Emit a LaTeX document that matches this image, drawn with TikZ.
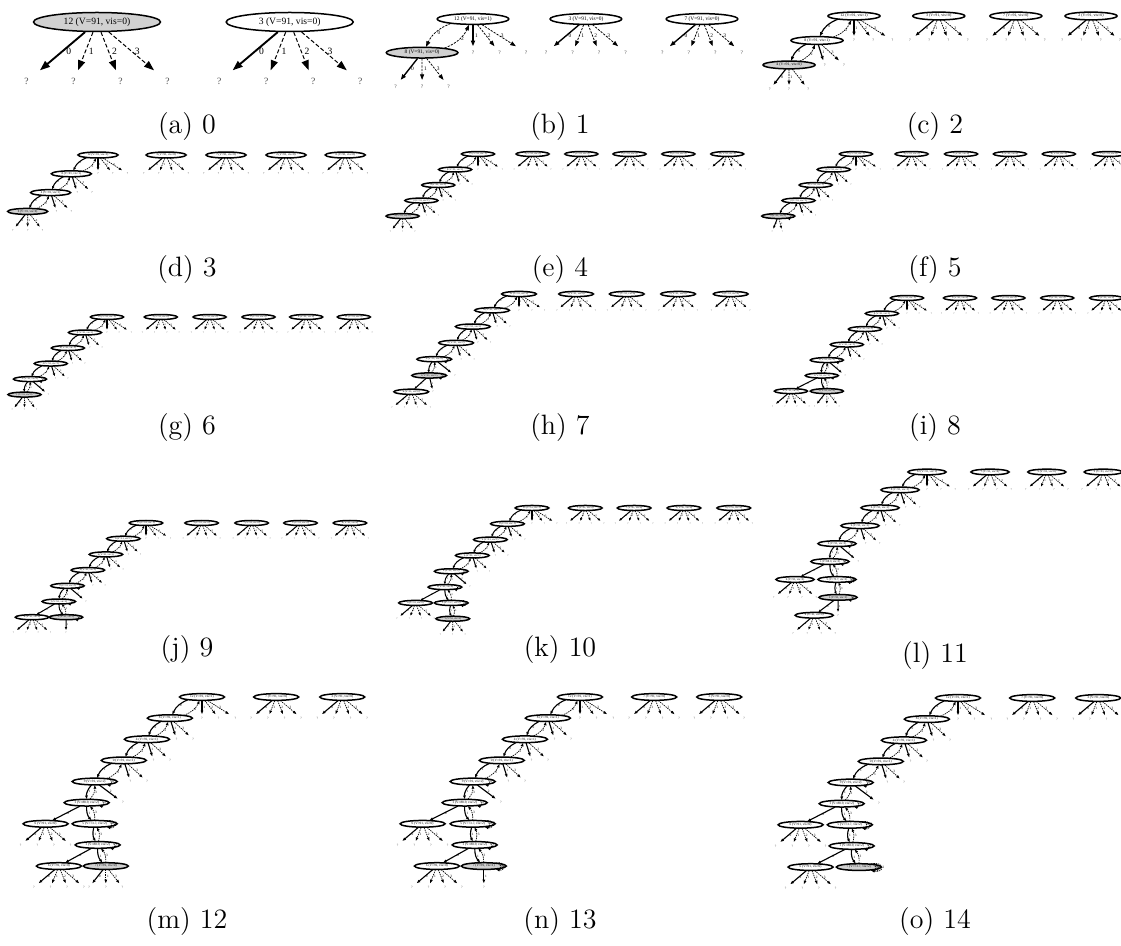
\documentclass[tikz,border=0pt]{standalone}
\usepackage{fontspec}
\newfontfamily\gvfont{Liberation Serif}
\usetikzlibrary{arrows.meta,positioning,shapes.geometric}

\newcommand\gvsize{\gvfont\fontsize{4.8}{5.5}\selectfont}
\newcommand\setpanel[1]{%
	\pgfmathsetmacro\AL{max(5*#1,1.4)}%
	\pgfmathsetmacro\AW{max(3.6*#1,1.1)}%
	\pgfmathsetmacro\DA{max(2*#1,0.7)}%
	\pgfmathsetmacro\DB{max(1.1*#1,0.45)}%
	\pgfmathsetmacro\SW{0.35+0.6*#1}%
	\pgfmathsetmacro\TW{0.25+0.25*#1}}

\tikzset{
	st/.style={draw, ellipse, line width=0.75pt, inner sep=0pt, minimum width=63.5pt, minimum height=9.5pt, font=\gvsize},
	cur/.style={st, fill=black!18},
	leaf/.style={inner sep=0pt, minimum width=18pt, minimum height=11pt, font=\gvsize, text=black!70},
	elab/.style={midway, right, inner sep=1.5pt, font=\gvsize},
	sol/.style={-{Triangle[length=\AL pt, width=\AW pt]}, line width=\SW pt},
	dsh/.style={sol, line width=\TW pt, dash pattern=on \DA pt off \DB pt},
	panel/.style={x=23.5pt, y=-29.85pt, scale=#1, transform shape},
	captxt/.style={font=\fontsize{14}{16}\selectfont},
}

% actions not tried yet, one level below a state
\newcommand\fan[4]{%
	\foreach \dx/\lab/\sty in {#4}{%
		\node[leaf] (#1-\lab) at ({#2+\dx},{#3+1}) {?};
		\draw[\sty] (#1) -- (#1-\lab) node[elab] {\lab};
	}}
\newcommand\topfan[3]{\fan{#1}{#2}{#3}{0/1/sol,1/2/dsh,2/3/dsh}}
\newcommand\midfan[3]{\fan{#1}{#2}{#3}{0.4/1/sol,1.4/3/dsh}}
\newcommand\lowfan[3]{\fan{#1}{#2}{#3}{-1/0/sol,0/1/dsh,1/3/dsh}}
\newcommand\allfan[3]{\fan{#1}{#2}{#3}{-1.5/0/sol,-0.5/1/dsh,0.5/2/dsh,1.5/3/dsh}}
\newcommand\rtree[3]{\node[st] (#1) at (#2,0) {#3};\allfan{#1}{#2}{0}}
% step down and step back
\newcommand\pair[4]{%
	\draw[sol] (#1) to[bend right=22] node[elab] {#3} (#2);
	\draw[dsh] (#2) to[bend right=22] node[elab] {#4} (#1);}
\newcommand\sloop[3]{%
	\draw[dsh] (#1) to[out=14,in=-14,min distance=#3] node[elab] {#2} (#1);}
% root and the first two states of the path
\newcommand\upper[3]{%
	\node[st] (#1r) at (0,0) {12 (V=91, vis=1)};
	\node[st] (#1a) at (#2,1) {8 (V=91, vis=1)};
	\node[st] (#1b) at (#3,2) {4 (V=91, vis=1)};
	\pair{#1r}{#1a}{0}{2}
	\pair{#1a}{#1b}{0}{2}
	\topfan{#1r}{0}{0}
	\midfan{#1a}{#2}{1}
	\midfan{#1b}{#3}{2}}

\begin{document}
\begin{tikzpicture}[x=0.5pt, y=-0.5pt]
	\useasboundingbox (0,0) rectangle (1121,946);

	% (a)
	\begin{scope}[shift={(97,22)}, panel=1]
		\setpanel{1}
		\node[cur] (a12) at (0,0) {12 (V=91, vis=0)};
		\allfan{a12}{0}{0}
		\rtree{a3}{4.1}{3 (V=91, vis=0)}
	\end{scope}
	\node[captxt] (capa) at (187,127) {(a) 0};

	% (b)
	\begin{scope}[shift={(473,19)}, panel=0.564]
		\setpanel{0.564}
		\node[st] (b12) at (0,0) {12 (V=91, vis=1)};
		\node[cur] (b8) at (-1.92,1) {8 (V=91, vis=0)};
		\draw[dsh] (b12) to[bend right=22] node[elab] {0} (b8);
		\draw[dsh] (b8) to[bend right=22] node[elab] {2} (b12);
		\topfan{b12}{0}{0}
		\lowfan{b8}{-1.92}{1}
		\rtree{b3}{4.26}{3 (V=91, vis=0)}
		\rtree{b7}{8.64}{7 (V=91, vis=0)}
	\end{scope}
	\node[captxt] (capb) at (560,127) {(b) 1};

	% (c)
	\begin{scope}[shift={(854,16)}, panel=0.41]
		\setpanel{0.41}
		\node[st] (c12) at (0,0) {12 (V=91, vis=1)};
		\node[st] (c8) at (-1.92,1) {8 (V=91, vis=1)};
		\node[cur] (c4) at (-3.37,2) {4 (V=91, vis=0)};
		\pair{c12}{c8}{0}{2}
		\pair{c8}{c4}{0}{2}
		\topfan{c12}{0}{0}
		\midfan{c8}{-1.92}{1}
		\lowfan{c4}{-3.37}{2}
		\rtree{c3}{4.4}{3 (V=91, vis=0)}
		\rtree{c7}{8.4}{7 (V=91, vis=0)}
		\rtree{c2}{12.3}{2 (V=91, vis=0)}
	\end{scope}
	\node[captxt] (capc) at (935,127) {(c) 2};

	% (d)
	\begin{scope}[shift={(98,155)}, panel=0.315]
		\setpanel{0.315}
		\upper{d}{-1.8}{-3.2}
		\node[cur] (dc) at (-4.75,3) {0 (V=91, vis=0)};
		\pair{db}{dc}{0}{2}
		\lowfan{dc}{-4.75}{3}
		\rtree{d3}{4.6}{3 (V=91, vis=0)}
		\rtree{d7}{8.65}{7 (V=91, vis=0)}
		\rtree{d2}{12.7}{2 (V=91, vis=0)}
		\rtree{d6}{16.7}{6 (V=91, vis=0)}
	\end{scope}
	\node[captxt] (capd) at (187,270) {(d) 3};

	% (e)
	\begin{scope}[shift={(478,154)}, panel=0.26]
		\setpanel{0.26}
		\upper{e}{-1.87}{-3.25}
		\node[st] (ec) at (-4.63,3) {0 (V=91, vis=1)};
		\node[cur] (ed) at (-6.17,4) {9 (V=91, vis=0)};
		\pair{eb}{ec}{0}{2}
		\pair{ec}{ed}{1}{3}
		\midfan{ec}{-4.63}{3}
		\lowfan{ed}{-6.17}{4}
		\rtree{e3}{4.47}{3 (V=91, vis=0)}
		\rtree{e7}{8.46}{7 (V=91, vis=0)}
		\rtree{e2}{12.4}{2 (V=91, vis=0)}
		\rtree{e6}{16.4}{6 (V=91, vis=0)}
		\rtree{e11}{20.4}{11 (V=91, vis=0)}
	\end{scope}
	\node[captxt] (cape) at (560,270) {(e) 4};

	% (f)
	\begin{scope}[shift={(856,154)}, panel=0.26]
		\setpanel{0.26}
		\upper{f}{-1.82}{-3.3}
		\node[st] (fc) at (-4.7,3) {0 (V=91, vis=1)};
		\node[cur] (fd) at (-6.36,4) {9 (V=91, vis=1)};
		\pair{fb}{fc}{0}{2}
		\pair{fc}{fd}{1}{3}
		\midfan{fc}{-4.7}{3}
		\sloop{fd}{0}{8pt}
		\fan{fd}{-6.36}{4}{-0.5/1/sol,0.33/3/dsh}
		\rtree{f3}{4.55}{3 (V=91, vis=0)}
		\rtree{f7}{8.6}{7 (V=91, vis=0)}
		\rtree{f2}{12.6}{2 (V=91, vis=0)}
		\rtree{f6}{16.6}{6 (V=91, vis=0)}
		\rtree{f11}{20.7}{11 (V=91, vis=0)}
	\end{scope}
	\node[captxt] (capf) at (935,270) {(f) 5};

	% (g)
	\begin{scope}[shift={(107,317)}, panel=0.26]
		\setpanel{0.26}
		\upper{g}{-1.8}{-3.2}
		\node[st] (gc) at (-4.6,3) {0 (V=91, vis=1)};
		\node[st] (gd) at (-6.3,4) {9 (V=91, vis=2)};
		\node[cur] (ge) at (-6.75,5) {1 (V=91, vis=0)};
		\pair{gb}{gc}{0}{2}
		\pair{gc}{gd}{1}{3}
		\pair{gd}{ge}{1}{3}
		\midfan{gc}{-4.6}{3}
		\sloop{gd}{0}{8pt}
		\fan{gd}{-6.3}{4}{1.5/2/sol}
		\lowfan{ge}{-6.75}{5}
		\rtree{g3}{4.4}{3 (V=91, vis=0)}
		\rtree{g7}{8.4}{7 (V=91, vis=0)}
		\rtree{g2}{12.4}{2 (V=91, vis=0)}
		\rtree{g6}{16.3}{6 (V=91, vis=0)}
		\rtree{g11}{20.2}{11 (V=91, vis=0)}
	\end{scope}
	\node[captxt] (capg) at (187,428) {(g) 6};

	% (h)
	\begin{scope}[shift={(519,294)}, panel=0.273]
		\setpanel{0.273}
		\upper{h}{-2.1}{-3.6}
		\node[st] (hc) at (-4.9,3) {0 (V=91, vis=1)};
		\node[st] (hd) at (-6.6,4) {9 (V=91, vis=2)};
		\node[cur] (he) at (-7.0,5) {1 (V=91, vis=1)};
		\node[st] (hf) at (-8.4,6) {6 (V=91, vis=0)};
		\pair{hb}{hc}{0}{2}
		\pair{hc}{hd}{1}{3}
		\pair{hd}{he}{1}{3}
		\draw[sol] (he) -- (hf) node[elab] {0};
		\midfan{hc}{-4.9}{3}
		\sloop{hd}{0}{8pt}
		\fan{hd}{-6.6}{4}{1.6/2/sol}
		\sloop{he}{2}{8pt}
		\fan{he}{-7.0}{5}{0.3/1/sol}
		\allfan{hf}{-8.4}{6}
		\rtree{h3}{4.45}{3 (V=91, vis=0)}
		\rtree{h7}{8.4}{7 (V=91, vis=0)}
		\rtree{h2}{12.4}{2 (V=91, vis=0)}
		\rtree{h6}{16.5}{6 (V=91, vis=0)}
	\end{scope}
	\node[captxt] (caph) at (560,428) {(h) 7};

	% (i)
	\begin{scope}[shift={(907,298)}, panel=0.26]
		\setpanel{0.26}
		\upper{i}{-2.05}{-3.44}
		\node[st] (ic) at (-4.92,3) {0 (V=91, vis=1)};
		\node[st] (id) at (-6.56,4) {9 (V=91, vis=2)};
		\node[st] (ie) at (-6.97,5) {1 (V=91, vis=1)};
		\node[st] (if) at (-9.5,6) {6 (V=91, vis=0)};
		\node[cur] (ig) at (-6.56,6) {5 (V=91, vis=0)};
		\pair{ib}{ic}{0}{2}
		\pair{ic}{id}{1}{3}
		\pair{id}{ie}{1}{3}
		\pair{ie}{ig}{1}{3}
		\draw[sol] (ie) -- (if) node[elab] {0};
		\midfan{ic}{-4.92}{3}
		\sloop{id}{0}{8pt}
		\fan{id}{-6.56}{4}{1.5/2/sol}
		\sloop{ie}{2}{8pt}
		\allfan{if}{-9.5}{6}
		\lowfan{ig}{-6.56}{6}
		\rtree{i3}{4.34}{3 (V=91, vis=0)}
		\rtree{i7}{8.3}{7 (V=91, vis=0)}
		\rtree{i2}{12.3}{2 (V=91, vis=0)}
		\rtree{i6}{16.3}{6 (V=91, vis=0)}
	\end{scope}
	\node[captxt] (capi) at (935,428) {(i) 8};

	% (j)
	\begin{scope}[shift={(146,523)}, panel=0.263]
		\setpanel{0.263}
		\upper{j}{-1.83}{-3.24}
		\node[st] (jc) at (-4.7,3) {0 (V=91, vis=1)};
		\node[st] (jd) at (-6.35,4) {9 (V=91, vis=2)};
		\node[st] (je) at (-7.05,5) {1 (V=91, vis=2)};
		\node[st] (jf) at (-9.22,6) {6 (V=91, vis=0)};
		\node[cur] (jg) at (-6.47,6) {5 (V=91, vis=1)};
		\pair{jb}{jc}{0}{2}
		\pair{jc}{jd}{1}{3}
		\pair{jd}{je}{1}{3}
		\pair{je}{jg}{1}{3}
		\draw[sol] (je) -- (jf) node[elab] {0};
		\midfan{jc}{-4.7}{3}
		\sloop{jd}{0}{8pt}
		\fan{jd}{-6.35}{4}{1.5/2/sol}
		\sloop{je}{2}{8pt}
		\allfan{jf}{-9.22}{6}
		\sloop{jg}{2}{8pt}
		\fan{jg}{-6.47}{6}{0/1/sol}
		\rtree{j3}{4.5}{3 (V=91, vis=0)}
		\rtree{j7}{8.55}{7 (V=91, vis=0)}
		\rtree{j2}{12.5}{2 (V=91, vis=0)}
		\rtree{j6}{16.5}{6 (V=91, vis=0)}
	\end{scope}
	\node[captxt] (capj) at (187,650) {(j) 9};

	% (k)
	\begin{scope}[shift={(532,508)}, panel=0.265]
		\setpanel{0.265}
		\upper{k}{-1.97}{-3.34}
		\node[st] (kc) at (-4.79,3) {0 (V=91, vis=1)};
		\node[st] (kd) at (-6.48,4) {9 (V=91, vis=2)};
		\node[st] (ke) at (-6.99,5) {1 (V=91, vis=2)};
		\node[st] (kf) at (-9.35,6) {6 (V=91, vis=0)};
		\node[st] (kg) at (-6.48,6) {5 (V=73.7, vis=2)};
		\node[cur] (kh) at (-6.36,7) {1 (V=91, vis=0)};
		\pair{kb}{kc}{0}{2}
		\pair{kc}{kd}{1}{3}
		\pair{kd}{ke}{1}{3}
		\pair{ke}{kg}{1}{3}
		\pair{kg}{kh}{1}{3}
		\draw[sol] (ke) -- (kf) node[elab] {0};
		\midfan{kc}{-4.79}{3}
		\sloop{kd}{0}{8pt}
		\fan{kd}{-6.48}{4}{1.5/2/sol}
		\sloop{ke}{2}{8pt}
		\allfan{kf}{-9.35}{6}
		\sloop{kg}{2}{8pt}
		\sloop{kg}{0}{14pt}
		\lowfan{kh}{-6.36}{7}
		\rtree{k3}{4.28}{3 (V=91, vis=0)}
		\rtree{k7}{8.2}{7 (V=91, vis=0)}
		\rtree{k2}{12.2}{2 (V=91, vis=0)}
		\rtree{k6}{16.2}{6 (V=91, vis=0)}
	\end{scope}
	\node[captxt] (capk) at (560,650) {(k) 10};

	% (l)
	\begin{scope}[shift={(927,472)}, panel=0.30]
		\setpanel{0.30}
		\upper{l}{-1.91}{-3.33}
		\node[st] (lc) at (-4.75,3) {0 (V=91, vis=1)};
		\node[st] (ld) at (-6.38,4) {9 (V=91, vis=2)};
		\node[st] (le) at (-6.88,5) {1 (V=88.9, vis=2)};
		\node[st] (lf) at (-9.36,6) {6 (V=91, vis=0)};
		\node[st] (lg) at (-6.38,6) {5 (V=73.7, vis=2)};
		\node[cur] (lh) at (-6.31,7) {1 (V=91, vis=1)};
		\node[st] (li) at (-8.0,8) {6 (V=91, vis=0)};
		\pair{lb}{lc}{0}{2}
		\pair{lc}{ld}{1}{3}
		\pair{ld}{le}{1}{3}
		\pair{le}{lg}{1}{3}
		\pair{lg}{lh}{1}{3}
		\draw[sol] (le) -- (lf) node[elab] {0};
		\draw[sol] (lh) -- (li) node[elab] {0};
		\midfan{lc}{-4.75}{3}
		\sloop{ld}{0}{8pt}
		\fan{ld}{-6.38}{4}{1.5/2/sol}
		\sloop{le}{2}{8pt}
		\allfan{lf}{-9.36}{6}
		\sloop{lg}{2}{8pt}
		\sloop{lg}{0}{14pt}
		\sloop{lh}{2}{8pt}
		\fan{lh}{-6.31}{7}{0/1/sol}
		\allfan{li}{-8.0}{8}
		\rtree{l7}{4.47}{7 (V=91, vis=0)}
		\rtree{l3}{8.5}{3 (V=91, vis=0)}
		\rtree{l2}{12.5}{2 (V=91, vis=0)}
	\end{scope}
	\node[captxt] (capl) at (935,656) {(l) 11};

	% (m)
	\begin{scope}[shift={(202,697)}, panel=0.354]
		\setpanel{0.354}
		\upper{m}{-1.93}{-3.31}
		\node[st] (mc) at (-4.7,3) {0 (V=91, vis=1)};
		\node[st] (md) at (-6.45,4) {9 (V=91, vis=2)};
		\node[st] (me) at (-6.93,5) {1 (V=88.9, vis=2)};
		\node[st] (mf) at (-9.4,6) {6 (V=91, vis=0)};
		\node[st] (mg) at (-6.45,6) {5 (V=73.7, vis=2)};
		\node[st] (mh) at (-6.27,7) {1 (V=80.9, vis=2)};
		\node[st] (mi) at (-8.6,8) {6 (V=91, vis=0)};
		\node[cur] (mj) at (-5.78,8) {7 (V=91, vis=0)};
		\pair{mb}{mc}{0}{2}
		\pair{mc}{md}{1}{3}
		\pair{md}{me}{1}{3}
		\pair{me}{mg}{1}{3}
		\pair{mg}{mh}{1}{3}
		\pair{mh}{mj}{1}{3}
		\draw[sol] (me) -- (mf) node[elab] {0};
		\draw[sol] (mh) -- (mi) node[elab] {0};
		\midfan{mc}{-4.7}{3}
		\sloop{md}{0}{8pt}
		\fan{md}{-6.45}{4}{1.7/2/sol}
		\sloop{me}{2}{8pt}
		\allfan{mf}{-9.4}{6}
		\sloop{mg}{2}{8pt}
		\sloop{mg}{0}{14pt}
		\sloop{mh}{2}{8pt}
		\allfan{mi}{-8.6}{8}
		\lowfan{mj}{-5.78}{8}
		\rtree{m7}{4.46}{7 (V=91, vis=0)}
		\rtree{m3}{8.43}{3 (V=91, vis=0)}
	\end{scope}
	\node[captxt] (capm) at (187,922) {(m) 12};

	% (n)
	\begin{scope}[shift={(580,697)}, panel=0.354]
		\setpanel{0.354}
		\upper{n}{-1.93}{-3.31}
		\node[st] (nc) at (-4.7,3) {0 (V=91, vis=1)};
		\node[st] (nd) at (-6.45,4) {9 (V=91, vis=2)};
		\node[st] (ne) at (-6.93,5) {1 (V=88.9, vis=2)};
		\node[st] (nf) at (-9.46,6) {6 (V=91, vis=0)};
		\node[st] (ng) at (-6.45,6) {5 (V=73.7, vis=2)};
		\node[st] (nh) at (-6.33,7) {1 (V=80.9, vis=2)};
		\node[st] (ni) at (-8.6,8) {6 (V=91, vis=0)};
		\node[cur] (nj) at (-5.78,8) {7 (V=91, vis=1)};
		\pair{nb}{nc}{0}{2}
		\pair{nc}{nd}{1}{3}
		\pair{nd}{ne}{1}{3}
		\pair{ne}{ng}{1}{3}
		\pair{ng}{nh}{1}{3}
		\pair{nh}{nj}{1}{3}
		\draw[sol] (ne) -- (nf) node[elab] {0};
		\draw[sol] (nh) -- (ni) node[elab] {0};
		\midfan{nc}{-4.7}{3}
		\sloop{nd}{0}{8pt}
		\fan{nd}{-6.45}{4}{1.7/2/sol}
		\sloop{ne}{2}{8pt}
		\allfan{nf}{-9.46}{6}
		\sloop{ng}{2}{8pt}
		\sloop{ng}{0}{14pt}
		\sloop{nh}{2}{8pt}
		\allfan{ni}{-8.6}{8}
		\sloop{nj}{0}{8pt}
		\sloop{nj}{2}{14pt}
		\fan{nj}{-5.78}{8}{0/1/sol}
		\rtree{n7}{4.46}{7 (V=91, vis=0)}
		\rtree{n3}{8.37}{3 (V=91, vis=0)}
	\end{scope}
	\node[captxt] (capn) at (560,922) {(n) 13};

	% (o)
	\begin{scope}[shift={(958,698)}, panel=0.354]
		\setpanel{0.354}
		\upper{o}{-1.87}{-3.25}
		\node[st] (oc) at (-4.64,3) {0 (V=91, vis=1)};
		\node[st] (od) at (-6.45,4) {9 (V=91, vis=2)};
		\node[st] (oe) at (-6.99,5) {1 (V=88.9, vis=2)};
		\node[st] (of) at (-9.46,6) {6 (V=91, vis=0)};
		\node[st] (og) at (-6.5,6) {5 (V=73.7, vis=2)};
		\node[st] (oh) at (-6.39,7) {1 (V=80.9, vis=2)};
		\node[st] (oi) at (-8.86,8) {6 (V=91, vis=0)};
		\node[cur] (oj) at (-5.96,8) {7 (V=73.7, vis=2)};
		\pair{ob}{oc}{0}{2}
		\pair{oc}{od}{1}{3}
		\pair{od}{oe}{1}{3}
		\pair{oe}{og}{1}{3}
		\pair{og}{oh}{1}{3}
		\pair{oh}{oj}{1}{3}
		\draw[sol] (oe) -- (of) node[elab] {0};
		\draw[sol] (oh) -- (oi) node[elab] {0};
		\midfan{oc}{-4.64}{3}
		\sloop{od}{0}{8pt}
		\fan{od}{-6.45}{4}{1.7/2/sol}
		\sloop{oe}{2}{8pt}
		\allfan{of}{-9.46}{6}
		\sloop{og}{2}{8pt}
		\sloop{og}{0}{14pt}
		\sloop{oh}{2}{8pt}
		\allfan{oi}{-8.86}{8}
		\sloop{oj}{0}{8pt}
		\sloop{oj}{1}{14pt}
		\sloop{oj}{2}{20pt}
		\rtree{o7}{4.46}{7 (V=91, vis=0)}
		\rtree{o3}{8.43}{3 (V=91, vis=0)}
	\end{scope}
	\node[captxt] (capo) at (935,922) {(o) 14};
\end{tikzpicture}
\end{document}
